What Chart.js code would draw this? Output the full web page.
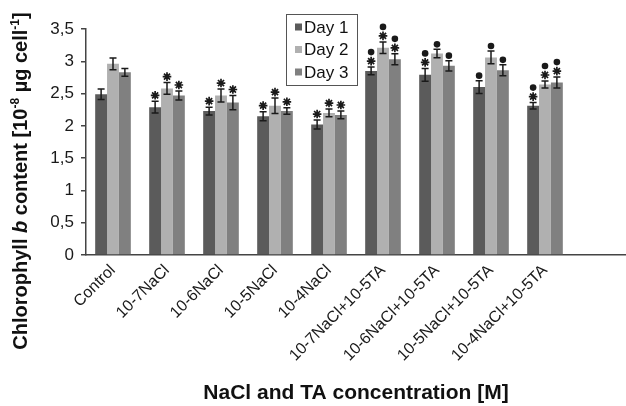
<!DOCTYPE html>
<html><head><meta charset="utf-8">
<script src="https://cdn.jsdelivr.net/npm/chart.js@4"></script>
<style>html,body{margin:0;padding:0;background:#fff;overflow:hidden;}</style>
</head><body>
<canvas id="c" width="626" height="406"></canvas>
<script>
const categories = ['Control','10-7NaCl','10-6NaCl','10-5NaCl','10-4NaCl',
  '10-7NaCl+10-5TA','10-6NaCl+10-5TA','10-5NaCl+10-5TA','10-4NaCl+10-5TA',''];
const seriesNames = ['Day 1','Day 2','Day 3'];
const day1 = [2.49, 2.29, 2.23, 2.15, 2.02, 2.85, 2.79, 2.60, 2.31];
const day2 = [2.96, 2.58, 2.47, 2.31, 2.20, 3.21, 3.12, 3.06, 2.64];
const day3 = [2.83, 2.47, 2.36, 2.23, 2.17, 3.03, 2.93, 2.86, 2.67];
const day1Err = [0.08, 0.09, 0.06, 0.07, 0.07, 0.06, 0.10, 0.10, 0.05];
const day2Err = [0.09, 0.09, 0.10, 0.12, 0.06, 0.09, 0.065, 0.10, 0.055];
const day3Err = [0.06, 0.07, 0.11, 0.05, 0.06, 0.085, 0.08, 0.085, 0.085];
// '*' = asterisk mark, '•' = dot mark
const day1Marks = ['', '*', '*', '*', '*', '*•', '*•', '•', '*•'];
const day2Marks = ['', '*', '*', '*', '*', '*•', '•', '•', '*•'];
const day3Marks = ['', '*', '*', '*', '*', '*•', '•', '•', '*•'];
const yTickValues = [0, 0.5, 1, 1.5, 2, 2.5, 3, 3.5];
const yTickLabels = ['0', '0,5', '1', '1,5', '2', '2,5', '3', '3,5'];
const xTitle = 'NaCl and TA concentration [M]';
const yTitleParts = [
  ['Chlorophyll ', 'bold', 0], ['b', 'italic bold', 0], [' content [10', 'bold', 0],
  ['-8', 'bold', 1], [' \u00b5g cell', 'bold', 0], ['-1', 'bold', 1], [']', 'bold', 0]
];
const colors = ['#5b5b5b', '#b0b0b0', '#808080'];
const FONT = "'Liberation Sans', Arial, sans-serif";

const overlay = {
  id: 'overlay',
  afterDatasetsDraw(chart) {
    const ctx = chart.ctx, ys = chart.scales.y;
    ctx.save();
    chart.data.datasets.forEach((ds, i) => {
      const meta = chart.getDatasetMeta(i);
      meta.data.forEach((bar, j) => {
        const v = ds.data[j], e = ds.errors[j];
        const yt = ys.getPixelForValue(v + e), yb = ys.getPixelForValue(v - e);
        const x = bar.x;
        ctx.strokeStyle = '#1a1a1a';
        ctx.lineWidth = 1.5;
        ctx.beginPath();
        ctx.moveTo(x, yt); ctx.lineTo(x, yb);
        ctx.moveTo(x - 3.5, yt); ctx.lineTo(x + 3.5, yt);
        ctx.moveTo(x - 3.5, yb); ctx.lineTo(x + 3.5, yb);
        ctx.stroke();
        const m = ds.marks[j] || '';
        let cy = yt - 6;
        if (m.includes('*')) {
          const r = 4.3;
          ctx.lineWidth = 1.7;
          ctx.beginPath();
          for (let k = 0; k < 4; k++) {
            const a = k * Math.PI / 4;
            ctx.moveTo(x - r * Math.cos(a), cy - r * Math.sin(a));
            ctx.lineTo(x + r * Math.cos(a), cy + r * Math.sin(a));
          }
          ctx.stroke();
          cy -= 10;
        }
        if (m.includes('•')) {
          ctx.fillStyle = '#1a1a1a';
          ctx.beginPath();
          ctx.arc(x, cy + 1, 3.3, 0, Math.PI * 2);
          ctx.fill();
        }
      });
    });
    ctx.restore();
  },
  afterDraw(chart) {
    const ctx = chart.ctx;
    ctx.save();
    // legend
    ctx.strokeStyle = '#555';
    ctx.lineWidth = 1;
    ctx.strokeRect(286.5, 14.5, 71, 71);
    ctx.font = '17px ' + FONT;
    ctx.textBaseline = 'middle';
    ctx.textAlign = 'left';
    chart.data.datasets.forEach((ds, i) => {
      const cy = 27 + i * 22.5;
      ctx.fillStyle = ds.backgroundColor;
      ctx.fillRect(295, cy - 3.5, 7, 7);
      ctx.fillStyle = '#111';
      ctx.fillText(ds.label, 304, cy + 1);
    });
    // y axis title with italic b and superscripts
    ctx.translate(20, 181);
    ctx.rotate(-Math.PI / 2);
    const big = 20, small = 12;
    let total = 0;
    const widths = yTitleParts.map(p => {
      ctx.font = p[1] + ' ' + (p[2] ? small : big) + 'px ' + FONT;
      const w = ctx.measureText(p[0]).width;
      total += w;
      return w;
    });
    let x = -total / 2;
    ctx.fillStyle = '#111';
    ctx.textBaseline = 'alphabetic';
    yTitleParts.forEach((p, k) => {
      ctx.font = p[1] + ' ' + (p[2] ? small : big) + 'px ' + FONT;
      ctx.fillText(p[0], x, p[2] ? -1 : 7);
      x += widths[k];
    });
    ctx.restore();
  }
};

new Chart(document.getElementById('c'), {
  type: 'bar',
  data: {
    labels: categories,
    datasets: [
      { label: seriesNames[0], data: day1, errors: day1Err, marks: day1Marks, backgroundColor: colors[0] },
      { label: seriesNames[1], data: day2, errors: day2Err, marks: day2Marks, backgroundColor: colors[1] },
      { label: seriesNames[2], data: day3, errors: day3Err, marks: day3Marks, backgroundColor: colors[2] }
    ]
  },
  options: {
    responsive: false,
    animation: false,
    devicePixelRatio: 1,
    layout: { padding: { top: 29, left: 0, right: 0, bottom: 0 } },
    datasets: { bar: { categoryPercentage: 0.66, barPercentage: 1.0, borderWidth: 0 } },
    plugins: { legend: { display: false }, tooltip: { enabled: false }, title: { display: false } },
    scales: {
      x: {
        grid: { display: false, drawTicks: false },
        border: { display: true, color: '#444', width: 1.5 },
        ticks: { autoSkip: false, minRotation: 45, maxRotation: 45, padding: 6,
          color: '#1a1a1a', font: { family: FONT, size: 16 } },
        title: { display: true, text: xTitle, color: '#111', padding: { top: 0, bottom: 0 },
          font: { family: FONT, size: 21, weight: 'bold' } },
        afterFit(s) { s.height = 151; }
      },
      y: {
        min: 0, max: 3.5,
        grid: { drawOnChartArea: false, drawTicks: true, tickLength: 5, color: '#444', lineWidth: 1.5 },
        border: { display: true, color: '#444', width: 1.5 },
        ticks: { stepSize: 0.5, padding: 7, color: '#1a1a1a', font: { family: FONT, size: 17 },
          callback: (v) => yTickLabels[yTickValues.indexOf(Math.round(v * 2) / 2)] },
        afterFit(s) { s.width = 86; }
      }
    }
  },
  plugins: [overlay]
});
</script>
</body></html>
